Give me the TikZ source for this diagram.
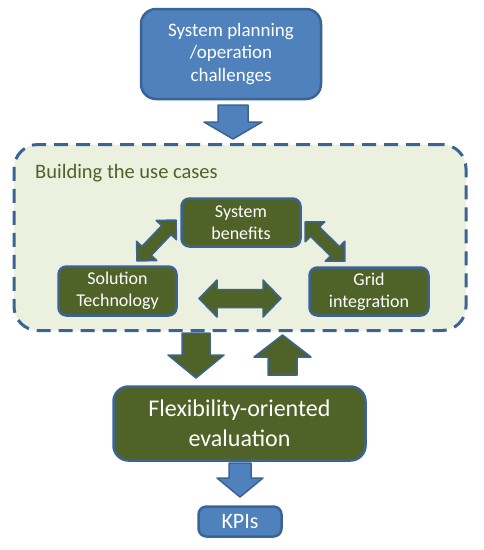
\documentclass[tikz,border=0pt]{standalone}
\usepackage{fontspec}
\setmainfont{Carlito}
\usetikzlibrary{calc}
\definecolor{bfill}{HTML}{4F81BD}
\definecolor{bline}{HTML}{3B6495}
\definecolor{gfill}{HTML}{4F6228}
\definecolor{lfill}{HTML}{EBF1DE}
\definecolor{gtext}{HTML}{4F6228}
\newcommand\sarrow[6]{%
  \coordinate (sa-h) at ($(#3)!#4!(#2)$);
  \path[#1] ($(#2)!#5!90:(#3)$) -- ($(sa-h)!#5!-90:(#2)$) -- ($(sa-h)!#6!-90:(#2)$) -- (#3)
    -- ($(sa-h)!#6!90:(#2)$) -- ($(sa-h)!#5!90:(#2)$) -- ($(#2)!#5!-90:(#3)$) -- cycle;}
\newcommand\darrow[6]{%
  \coordinate (da-1) at ($(#2)!#4!(#3)$);
  \coordinate (da-2) at ($(#3)!#4!(#2)$);
  \path[#1] (#2) -- ($(da-1)!#6!90:(#3)$) -- ($(da-1)!#5!90:(#3)$) -- ($(da-2)!#5!-90:(#2)$)
    -- ($(da-2)!#6!-90:(#2)$) -- (#3) -- ($(da-2)!#6!90:(#2)$) -- ($(da-2)!#5!90:(#2)$)
    -- ($(da-1)!#5!-90:(#3)$) -- ($(da-1)!#6!-90:(#3)$) -- cycle;}
\begin{document}
\begin{tikzpicture}[x=1pt,y=-1pt,
  bluebox/.style={draw=bline,fill=bfill,line width=2.5pt,text=white,align=center,inner sep=0pt},
  greenbox/.style={draw=bline,fill=gfill,line width=2.5pt,text=white,align=center,inner sep=0pt},
  bluearr/.style={draw=bline,fill=bfill,line width=1.5pt,line join=round},
  greenarr/.style={draw=bline,fill=gfill,line width=1.5pt,line join=round}]
\useasboundingbox (0,0) rectangle (484,550);
\fill[white] (0,0) rectangle (484,550);
% dashed use-case area
\node[draw=bline,fill=lfill,line width=3pt,dash pattern=on 14pt off 8pt,rounded corners=24pt,
  minimum width=452pt,minimum height=186pt] (uc) at (240,237.5) {};
\node[anchor=base west,text=gtext,font=\fontsize{20.5}{24}\selectfont,inner sep=0pt] (uclabel) at (35,178) {Building the use cases};
% boxes
\node[bluebox,rounded corners=15pt,minimum width=180pt,minimum height=90pt,font=\fontsize{19}{22.5}\selectfont] (top) at (231,54) {System planning\\/operation\\challenges};
\node[greenbox,rounded corners=8pt,minimum width=119pt,minimum height=48pt,font=\fontsize{18}{22}\selectfont] (sys) at (241,222.5) {System\\benefits};
\node[greenbox,rounded corners=8pt,minimum width=118pt,minimum height=49pt,font=\fontsize{18}{22}\selectfont] (sol) at (117.5,291) {Solution\\Technology};
\node[greenbox,rounded corners=8pt,minimum width=119pt,minimum height=48pt,font=\fontsize{18}{22}\selectfont] (grid) at (369,291.5) {Grid\\integration};
\node[greenbox,rounded corners=15pt,minimum width=252pt,minimum height=74pt,font=\fontsize{24}{30}\selectfont] (flex) at (239.5,423.5) {Flexibility-oriented\\evaluation};
\node[bluebox,rounded corners=8pt,minimum width=83pt,minimum height=30pt,font=\fontsize{22}{26}\selectfont] (kpi) at (240,521.5) {KPIs};
% arrow end points
\coordinate (a1s) at (233,105);   \coordinate (a1e) at (233,139);
\coordinate (a2s) at (196,333);   \coordinate (a2e) at (196,378);
\coordinate (a3s) at (282.5,375); \coordinate (a3e) at (282.5,335);
\coordinate (a4s) at (240,463);   \coordinate (a4e) at (240,497);
\coordinate (d1s) at (137,261);   \coordinate (d1e) at (176,220);
\coordinate (d2s) at (305,222);   \coordinate (d2e) at (345,261);
\coordinate (d3s) at (199,298.5); \coordinate (d3e) at (281,298.5);
% block arrows
\sarrow{bluearr}{a1s}{a1e}{17pt}{15pt}{29pt}
\sarrow{greenarr}{a2s}{a2e}{23pt}{14pt}{28pt}
\sarrow{greenarr}{a3s}{a3e}{22pt}{14.5pt}{28.5pt}
\sarrow{bluearr}{a4s}{a4e}{19pt}{11pt}{23pt}
\darrow{greenarr}{d1s}{d1e}{14pt}{6.5pt}{14pt}
\darrow{greenarr}{d2s}{d2e}{14pt}{6.5pt}{14pt}
\darrow{greenarr}{d3s}{d3e}{18pt}{9pt}{18.5pt}
\end{tikzpicture}
\end{document}
